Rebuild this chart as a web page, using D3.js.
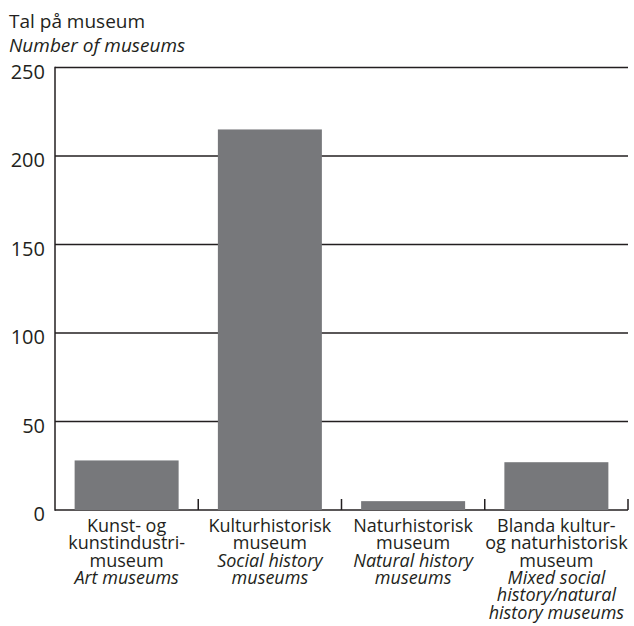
<!DOCTYPE html>
<html>
<head>
<meta charset="utf-8">
<script src="https://cdn.jsdelivr.net/npm/d3@7"></script>
<style>
  body { margin: 0; background: #fff; }
  svg { display: block; font-family: "Open Sans", "Noto Sans", sans-serif; }
</style>
</head>
<body>
<svg id="chart" width="634" height="626"></svg>
<script>
// categories: Norwegian label lines, then English (italic) lines
var labelsNo = [
  ["Kunst- og", "kunstindustri-", "museum"],
  ["Kulturhistorisk", "museum"],
  ["Naturhistorisk", "museum"],
  ["Blanda kultur-", "og naturhistorisk", "museum"]
];
var labelsEn = [
  ["Art museums"],
  ["Social history", "museums"],
  ["Natural history", "museums"],
  ["Mixed social", "history/natural", "history museums"]
];
var counts = [28, 215, 5, 27];
var yTicks = [0, 50, 100, 150, 200, 250];

var svg = d3.select("#chart"),
    WIDTH = 634,
    HEIGHT = 626,
    MARGINS = { top: 67.5, right: 6, bottom: 116, left: 55 },
    LINE = "#231f20",
    BAR = "#77787b";

var cats = d3.range(counts.length);

var xScale = d3.scaleBand()
    .domain(cats)
    .range([MARGINS.left, WIDTH - MARGINS.right])
    .paddingInner(0.274)
    .paddingOuter(0.137);

var yScale = d3.scaleLinear()
    .domain([0, 250])
    .range([HEIGHT - MARGINS.bottom, MARGINS.top]);

var x0 = MARGINS.left, x1 = WIDTH - MARGINS.right;
var step = xScale.step();

// horizontal gridlines (0 is the baseline)
svg.append("g")
  .selectAll("line")
  .data(yTicks)
  .join("line")
    .attr("x1", x0)
    .attr("x2", x1)
    .attr("y1", function (d) { return yScale(d); })
    .attr("y2", function (d) { return yScale(d); })
    .attr("stroke", LINE)
    .attr("stroke-width", 1.5);

// bars
svg.append("g")
  .selectAll("rect")
  .data(counts)
  .join("rect")
    .attr("x", function (d, i) { return xScale(i); })
    .attr("y", function (d) { return yScale(d); })
    .attr("width", xScale.bandwidth())
    .attr("height", function (d) { return yScale(0) - yScale(d); })
    .attr("fill", BAR);

// left axis line
svg.append("line")
  .attr("x1", x0).attr("x2", x0)
  .attr("y1", yScale(250) - 0.75).attr("y2", yScale(0) + 0.75)
  .attr("stroke", LINE)
  .attr("stroke-width", 1.5);

// category separator ticks on baseline
svg.append("g")
  .selectAll("line")
  .data(cats)
  .join("line")
    .attr("x1", function (d) { return x0 + step * (d + 1); })
    .attr("x2", function (d) { return x0 + step * (d + 1); })
    .attr("y1", yScale(0) - 11)
    .attr("y2", yScale(0))
    .attr("stroke", LINE)
    .attr("stroke-width", 1.5);

// y tick labels
svg.append("g")
  .selectAll("text")
  .data(yTicks)
  .join("text")
    .attr("x", 45)
    .attr("y", function (d) { return yScale(d) + 11; })
    .attr("text-anchor", "end")
    .attr("font-size", 20)
    .attr("fill", LINE)
    .text(function (d) { return d; });

// axis title
svg.append("text")
  .attr("x", 9).attr("y", 28)
  .attr("font-size", 19)
  .attr("fill", LINE)
  .text("Tal på museum");
svg.append("text")
  .attr("x", 9).attr("y", 52)
  .attr("font-size", 19)
  .attr("font-style", "italic")
  .attr("fill", LINE)
  .text("Number of museums");

// category labels
var lab = svg.append("g")
  .selectAll("text")
  .data(cats)
  .join("text")
    .attr("text-anchor", "middle")
    .attr("font-size", 18)
    .attr("fill", LINE)
    .attr("transform", function (d) {
      return "translate(" + (xScale(d) + xScale.bandwidth() / 2) + "," + 532 + ")";
    });

lab.each(function (d) {
  var t = d3.select(this);
  var lines = labelsNo[d].map(function (s) { return { s: s, it: false }; })
    .concat(labelsEn[d].map(function (s) { return { s: s, it: true }; }));
  lines.forEach(function (l, k) {
    t.append("tspan")
      .attr("x", 0)
      .attr("y", k * 17.3)
      .attr("font-style", l.it ? "italic" : null)
      .text(l.s);
  });
});
</script>
</body>
</html>
